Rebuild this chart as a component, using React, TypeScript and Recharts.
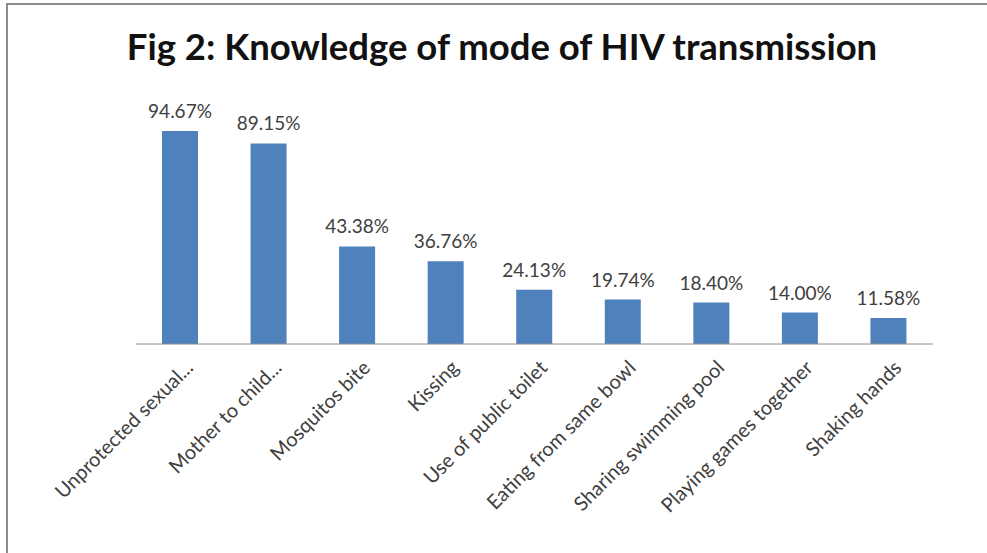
import { Bar, BarChart, LabelList, XAxis, YAxis } from "recharts";

const categories = [
  "Unprotected sexual...",
  "Mother to child...",
  "Mosquitos bite",
  "Kissing",
  "Use of public toilet",
  "Eating from same bowl",
  "Sharing swimming pool",
  "Playing games together",
  "Shaking hands",
];

const percentages = [94.67, 89.15, 43.38, 36.76, 24.13, 19.74, 18.4, 14.0, 11.58];

const data = categories.map((name, i) => ({ name, value: percentages[i] }));

const FONT = "Lato, 'Open Sans', sans-serif";

// category names run up-right at 45 degrees, ending just under each bar
function SlantedTick(props: any) {
  const { x, y, payload } = props;
  const ax = x + 14;
  const ay = y + 17;
  return (
    <text
      x={ax}
      y={ay}
      textAnchor="end"
      fill="#404040"
      fontSize={20}
      fontFamily={FONT}
      transform={`rotate(-45, ${ax}, ${ay})`}
    >
      {payload.value}
    </text>
  );
}

export default function App() {
  return (
    <div
      style={{
        position: "absolute",
        left: 0,
        top: 0,
        width: 987,
        height: 553,
        background: "#fff",
        overflow: "hidden",
      }}
    >
      <div
        style={{
          position: "absolute",
          left: 6,
          top: 3,
          width: 1000,
          height: 600,
          borderLeft: "2px solid #8c8c8c",
          borderTop: "2px solid #8c8c8c",
        }}
      />
      <div
        style={{
          position: "absolute",
          left: 0,
          width: 1004,
          top: 24,
          textAlign: "center",
          fontFamily: FONT,
          fontWeight: 700,
          fontSize: 36.5,
          color: "#111",
        }}
      >
        Fig 2: Knowledge of mode of HIV transmission
      </div>
      <div style={{ position: "absolute", left: 0, top: 0 }}>
        <BarChart
          width={987}
          height={553}
          data={data}
          margin={{ top: 119, right: 54, bottom: 109, left: 136 }}
        >
          <XAxis
            dataKey="name"
            height={100}
            interval={0}
            tickLine={false}
            axisLine={{ stroke: "#8c8c8c", strokeWidth: 1 }}
            tick={<SlantedTick />}
          />
          <YAxis hide domain={[0, 100]} />
          <Bar dataKey="value" fill="#4f81bd" barSize={36} isAnimationActive={false}>
            <LabelList
              dataKey="value"
              position="top"
              offset={13}
              fill="#404040"
              fontSize={19}
              fontFamily={FONT}
              formatter={(v: any) => `${Number(v).toFixed(2)}%`}
            />
          </Bar>
        </BarChart>
      </div>
    </div>
  );
}
